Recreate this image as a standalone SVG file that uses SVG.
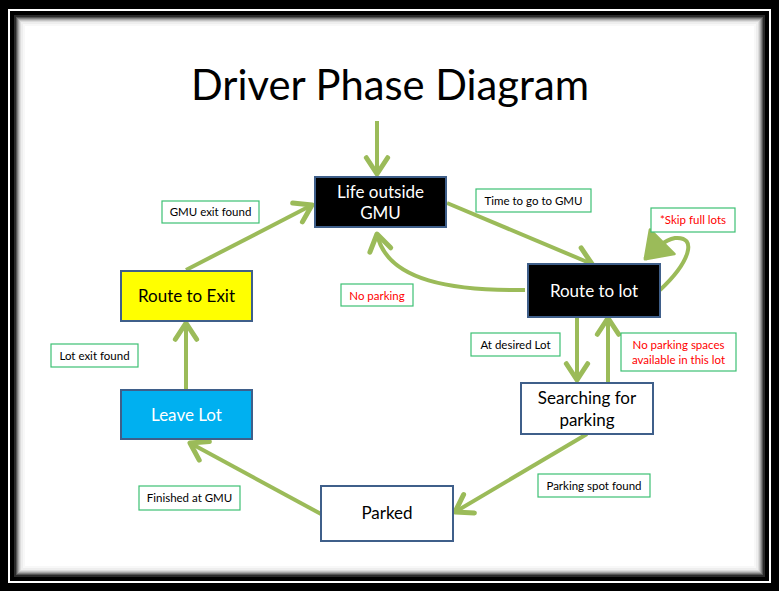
<svg xmlns="http://www.w3.org/2000/svg" width="779" height="591" viewBox="0 0 779 591">
<defs>
<style>
.node rect{stroke:#3f5f8a;stroke-width:2}
.nt{font-family:Lato,"Open Sans","Liberation Sans",sans-serif;font-size:17px;text-anchor:middle}
.lb rect{fill:#fff;stroke:#3cc073;stroke-width:1.2}
.lt{font-family:Lato,"Open Sans","Liberation Sans",sans-serif;font-size:11.5px;text-anchor:middle;fill:#000}
.red{fill:#ff0000}
.conn path{fill:none;stroke:#9bbb59;stroke-width:4}
</style>
<marker id="ah" markerUnits="userSpaceOnUse" markerWidth="30" markerHeight="30" refX="0" refY="0" viewBox="-16 -12 20 24" orient="auto">
<path d="M-13,-8.5 L0,0 L-13,8.5" fill="none" stroke="#9bbb59" stroke-width="4" stroke-linecap="round" stroke-linejoin="round"/>
</marker>
<marker id="ahf" markerUnits="userSpaceOnUse" markerWidth="40" markerHeight="40" refX="0" refY="0" viewBox="-20 -14 24 28" orient="auto">
<path d="M-17,-12 L0,0 L-17,12 Z" fill="#9bbb59" stroke="#9bbb59" stroke-width="2" stroke-linejoin="round"/>
</marker>
</defs>
<!-- frame -->
<rect x="0" y="0" width="779" height="591" fill="#000"/>
<rect x="9" y="10" width="761" height="572" fill="none" stroke="#fff" stroke-width="2"/>
<rect x="14" y="15" width="751" height="562" fill="#2a2a2a"/>
<rect x="16" y="17" width="747" height="558" fill="#555"/>
<rect x="17" y="18" width="745" height="556" fill="#808080"/>
<rect x="18" y="19" width="743" height="554" fill="#a5a5a5"/>
<rect x="19" y="20" width="741" height="552" fill="#c4c4c4"/>
<rect x="20" y="21" width="739" height="550" fill="#dcdcdc"/>
<rect x="21" y="22" width="737" height="548" fill="#eeeeee"/>
<rect x="23" y="24" width="733" height="544" fill="#f8f8f8"/>
<rect x="25" y="26" width="729" height="540" fill="#fff"/>

<text x="390" y="100" font-family="Lato,'Open Sans','Liberation Sans',sans-serif" font-size="43" text-anchor="middle" textLength="398" lengthAdjust="spacingAndGlyphs" fill="#000">Driver Phase Diagram</text>

<g id="connectors" class="conn">
<path d="M377,121 L377,174" marker-end="url(#ah)"/>
<path d="M447,203 L592,264" marker-end="url(#ah)"/>
<path d="M525,290 C455,291 387,282 377,234" marker-end="url(#ah)"/>
<path d="M660,290 C690,262 698,236 675,238 C664,240 654,250 645,259" marker-end="url(#ahf)"/>
<path d="M577,317 L577,380" marker-end="url(#ah)"/>
<path d="M608,383 L608,318" marker-end="url(#ah)"/>
<path d="M587,434 L455,512" marker-end="url(#ah)"/>
<path d="M321,514 L190,443" marker-end="url(#ah)"/>
<path d="M186,390 L186,323" marker-end="url(#ah)"/>
<path d="M186,270 L312,205" marker-end="url(#ah)"/>
</g>

<g id="life" class="node">
<rect x="315" y="177" width="131" height="50" fill="#000"/>
<text class="nt" x="380.5" y="198" fill="#fff">Life outside</text>
<text class="nt" x="380.5" y="219" fill="#fff">GMU</text>
</g>
<g id="routelot" class="node">
<rect x="528" y="264" width="132" height="53" fill="#000"/>
<text class="nt" x="594" y="297" fill="#fff">Route to lot</text>
</g>
<g id="searching" class="node">
<rect x="521" y="383" width="132" height="51" fill="#fff"/>
<text class="nt" x="587" y="404" fill="#000">Searching for</text>
<text class="nt" x="587" y="426" fill="#000">parking</text>
</g>
<g id="parked" class="node">
<rect x="321" y="486" width="132" height="55" fill="#fff"/>
<text class="nt" x="387" y="519" fill="#000">Parked</text>
</g>
<g id="leavelot" class="node">
<rect x="121" y="390" width="131" height="49" fill="#00b0f0"/>
<text class="nt" x="186.5" y="421" fill="#fff">Leave Lot</text>
</g>
<g id="routeexit" class="node">
<rect x="121" y="271" width="131" height="50" fill="#ffff00"/>
<text class="nt" x="186.5" y="302" fill="#000">Route to Exit</text>
</g>

<g id="lbl-gmuexit" class="lb"><rect x="162" y="201" width="97" height="22"/><text class="lt" x="210.5" y="216">GMU exit found</text></g>
<g id="lbl-lotexit" class="lb"><rect x="51" y="344" width="87" height="23"/><text class="lt" x="94.5" y="359.5">Lot exit found</text></g>
<g id="lbl-time" class="lb"><rect x="476" y="189" width="115" height="23"/><text class="lt" x="533.5" y="205">Time to go to GMU</text></g>
<g id="lbl-nopark" class="lb"><rect x="341" y="284" width="72" height="22"/><text class="lt red" x="377" y="299.5">No parking</text></g>
<g id="lbl-skip" class="lb"><rect x="651" y="208" width="84" height="24"/><text class="lt red" x="693" y="224">*Skip full lots</text></g>
<g id="lbl-desired" class="lb"><rect x="471" y="333" width="89" height="23"/><text class="lt" x="515.5" y="349">At desired Lot</text></g>
<g id="lbl-nospaces" class="lb"><rect x="621" y="333" width="115" height="38"/><text class="lt red" x="678.5" y="349">No parking spaces</text><text class="lt red" x="678.5" y="364">available in this lot</text></g>
<g id="lbl-spot" class="lb"><rect x="538" y="474" width="112" height="23"/><text class="lt" x="594" y="490">Parking spot found</text></g>
<g id="lbl-finished" class="lb"><rect x="139" y="486" width="101" height="24"/><text class="lt" x="189.5" y="502">Finished at GMU</text></g>
</svg>
